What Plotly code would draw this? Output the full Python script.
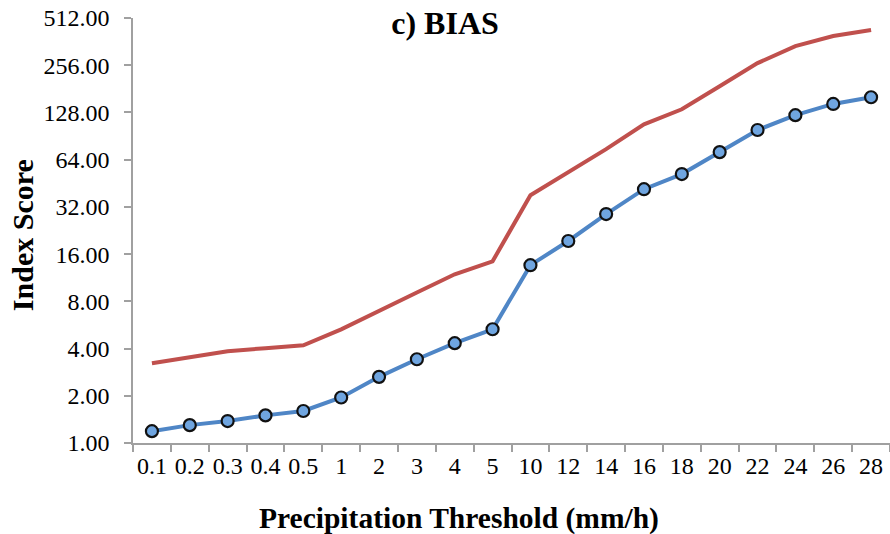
import plotly.graph_objects as go
import math

categories = ["0.1", "0.2", "0.3", "0.4", "0.5", "1", "2", "3", "4", "5",
              "10", "12", "14", "16", "18", "20", "22", "24", "26", "28"]
blue_values = [1.19, 1.30, 1.38, 1.50, 1.60, 1.95, 2.64, 3.42, 4.33, 5.31,
               13.6, 19.4, 28.8, 41.5, 51.8, 71.5, 98.9, 123.0, 145.0, 160.0]
red_values = [3.22, 3.52, 3.85, 4.02, 4.20, 5.3, 7.0, 9.1, 11.9, 14.4,
              38.0, 53.3, 74.7, 107.6, 134.0, 188.0, 264.0, 339.0, 393.0, 429.0]
y_ticks = [1, 2, 4, 8, 16, 32, 64, 128, 256, 512]
y_ticktext = [f"{v:.2f}" for v in y_ticks]

FONT = "Liberation Serif, Times New Roman, serif"

fig = go.Figure()
fig.add_trace(go.Scatter(
    x=categories, y=red_values, mode="lines",
    line=dict(color="#C0504D", width=4),
    showlegend=False, cliponaxis=False,
))
fig.add_trace(go.Scatter(
    x=categories, y=blue_values, mode="lines+markers",
    line=dict(color="#4F86C6", width=4),
    marker=dict(symbol="circle", size=12, color="#6FA5E0",
                line=dict(color="#111111", width=2.2)),
    showlegend=False, cliponaxis=False,
))

fig.update_layout(
    width=890, height=534,
    margin=dict(l=133, r=0, t=18, b=91, autoexpand=False),
    paper_bgcolor="white", plot_bgcolor="white",
    font=dict(family=FONT, color="black", size=24),
    title=dict(text="<b>c) BIAS</b>", x=0.5, xanchor="center", y=0.958, yanchor="middle",
               font=dict(family=FONT, size=32, color="black")),
    xaxis=dict(
        type="category", categoryorder="array", categoryarray=categories,
        range=[-0.5, len(categories) - 0.5],
        showline=True, linecolor="#A0A0A0", linewidth=1.5,
        ticks="outside", tickson="boundaries", ticklen=7, tickcolor="#A0A0A0", tickwidth=1.5,
        tickangle=0, automargin=False,
        showgrid=False, zeroline=False,
        tickfont=dict(family=FONT, size=24, color="black"),
    ),
    yaxis=dict(
        type="log", range=[0, math.log10(512)],
        tickvals=y_ticks, ticktext=y_ticktext,
        showline=True, linecolor="#A0A0A0", linewidth=1.5,
        ticks="outside", ticklen=7, tickcolor="#A0A0A0", tickwidth=1.5,
        ticklabelstandoff=10, automargin=False,
        showgrid=False, zeroline=False,
        tickfont=dict(family=FONT, size=24, color="black"),
    ),
    annotations=[
        dict(text="<b>Precipitation Threshold (mm/h)</b>", xref="paper", yref="paper",
             x=(459 - 133) / 757, y=-(518 - 442.7) / 424.7, xanchor="center", yanchor="middle",
             showarrow=False, font=dict(family=FONT, size=29.5, color="black")),
        dict(text="<b>Index Score</b>", xref="paper", yref="paper",
             x=-(133 - 22) / 757, y=(442.7 - 235) / 424.7, xanchor="center", yanchor="middle",
             textangle=-90, showarrow=False, font=dict(family=FONT, size=30, color="black")),
    ],
)

fig.write_html("out.html")
